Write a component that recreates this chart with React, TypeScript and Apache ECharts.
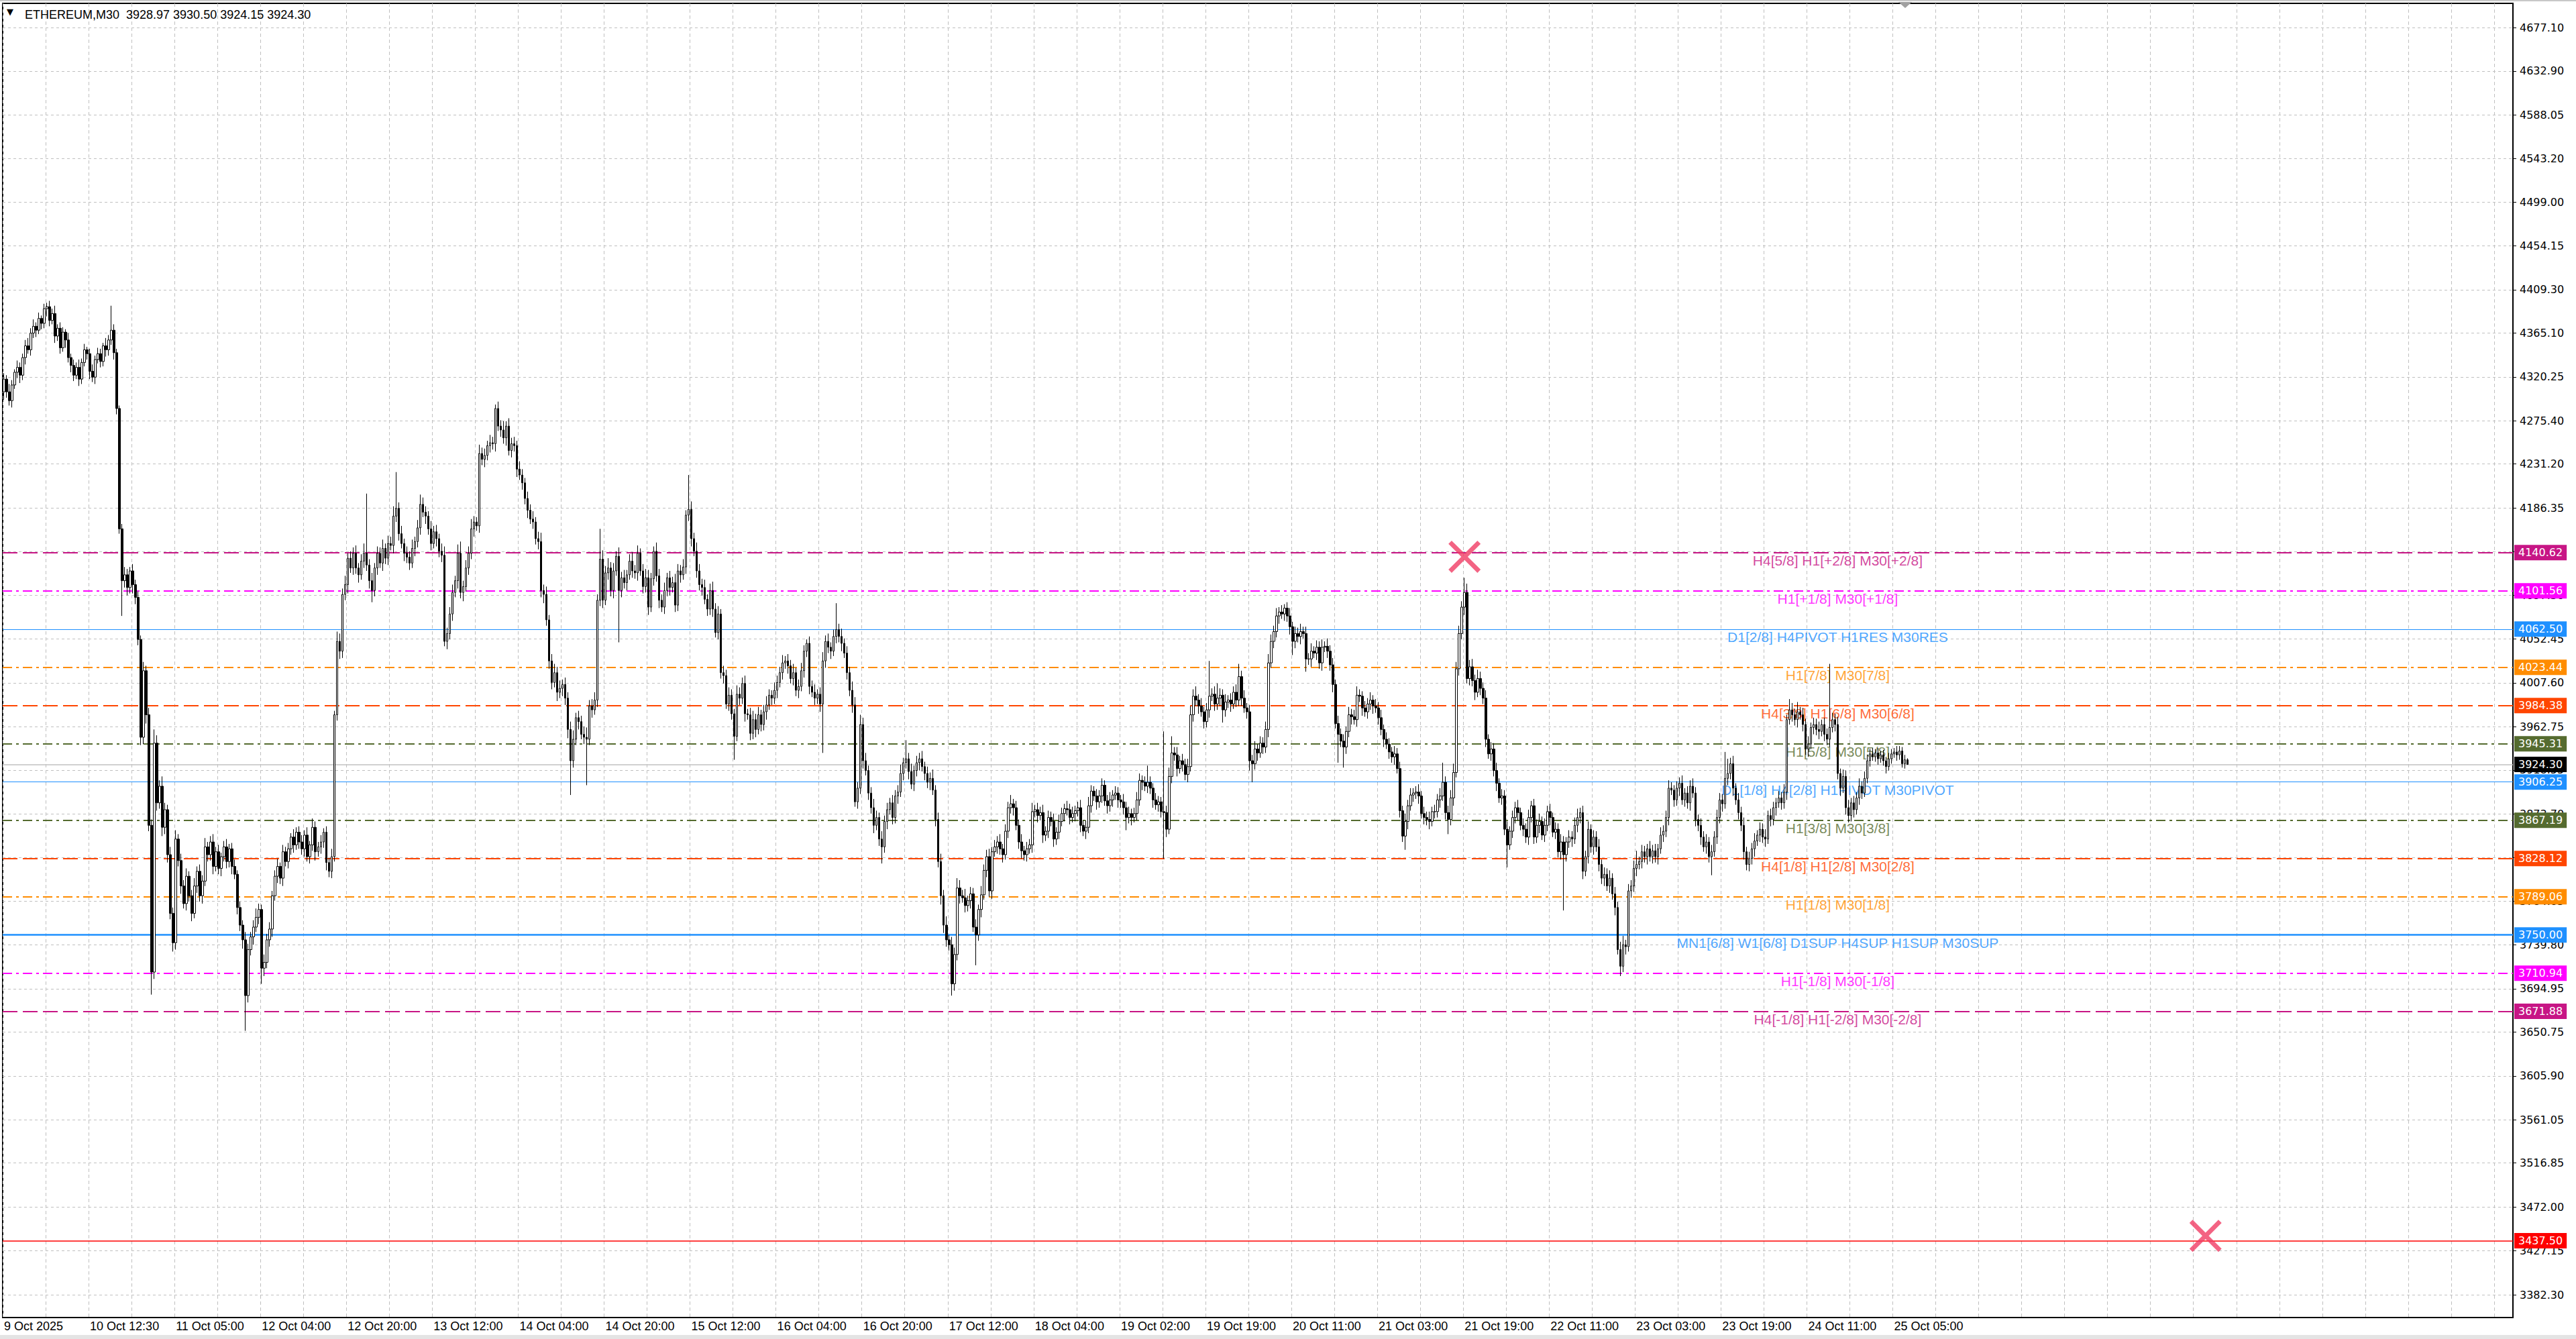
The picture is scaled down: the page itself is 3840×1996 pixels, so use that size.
import React, { useEffect, useRef } from 'react';
import * as echarts from 'echarts';

const SYMBOL = 'ETHEREUM';
const TIMEFRAME = 'M30';

// open of the first bar, then each bar opens at the previous close
const FIRST_OPEN = 4305;

// M30 closes, 10 bars per row
const CLOSE = [
  4318, 4305, 4296, 4312, 4325, 4330, 4322, 4340, 4352, 4348,
  4365, 4372, 4368, 4380, 4375, 4390, 4392, 4378, 4385, 4362,
  4370, 4350, 4366, 4358, 4340, 4332, 4322, 4330, 4318, 4335,
  4348, 4344, 4326, 4320, 4338, 4344, 4336, 4352, 4348, 4358,
  4368, 4345, 4288, 4165, 4112, 4118, 4105, 4122, 4108, 4095,
  4052, 3952, 4020, 3975, 3862, 3712, 3946, 3885, 3902, 3860,
  3878, 3832, 3772, 3742, 3848, 3826, 3800, 3782, 3810, 3790,
  3772, 3800, 3815, 3790, 3805, 3840, 3832, 3845, 3820, 3835,
  3818, 3830, 3840, 3825, 3838, 3820, 3812, 3778, 3760, 3745,
  3688, 3735, 3748, 3758, 3768, 3776, 3716, 3722, 3745, 3756,
  3790, 3810, 3820, 3808, 3835, 3825, 3838, 3850, 3842, 3855,
  3845, 3838, 3852, 3830, 3842, 3860, 3835, 3840, 3845, 3855,
  3824, 3815, 3830, 3975, 4050, 4040, 4098, 4108, 4135, 4125,
  4140, 4125, 4118, 4132, 4140, 4128, 4112, 4102, 4125, 4140,
  4130, 4145, 4135, 4150, 4148, 4178, 4186, 4160, 4150, 4140,
  4136, 4130, 4145, 4152, 4166, 4190, 4182, 4178, 4165, 4150,
  4162, 4155, 4142, 4138, 4050, 4058, 4078, 4100, 4112, 4140,
  4100, 4106, 4125, 4140, 4165, 4172, 4168, 4242, 4236, 4240,
  4250, 4253, 4252, 4288, 4270, 4266, 4258, 4270, 4245, 4252,
  4250, 4226, 4220, 4212, 4196, 4184, 4175, 4172, 4155, 4152,
  4102, 4098, 4072, 4030, 4008, 4018, 3998, 4002, 4006, 3992,
  3960, 3928, 3950, 3972, 3968, 3955, 3952, 3950, 3984, 3980,
  3990, 4092, 4134, 4092, 4120, 4125, 4102, 4122, 4137, 4102,
  4115, 4110, 4118, 4132, 4122, 4120, 4140, 4122, 4106, 4115,
  4085, 4114, 4142, 4117, 4092, 4085, 4102, 4115, 4105, 4110,
  4087, 4122, 4118, 4126, 4179, 4185, 4155, 4142, 4122, 4108,
  4105, 4093, 4083, 4102, 4083, 4059, 4078, 4018, 4015, 3986,
  3995, 3976, 3953, 3996, 3992, 4007, 3976, 3975, 3956, 3970,
  3960, 3975, 3965, 3978, 3985, 3995, 3992, 4000, 4008, 4018,
  4028, 4030, 4025, 4012, 4018, 4000, 4004, 4020, 4040, 4048,
  4004, 3998, 3992, 3996, 3986, 4030, 4050, 4044, 4040, 4055,
  4062, 4055, 4048, 4038, 4018, 4000, 3985, 3886, 3900, 3965,
  3928, 3918, 3895, 3880, 3862, 3870, 3848, 3840, 3866, 3878,
  3885, 3870, 3892, 3896, 3915, 3926, 3930, 3917, 3904, 3918,
  3926, 3930, 3922, 3915, 3906, 3910, 3898, 3868, 3825, 3790,
  3760, 3745, 3740, 3700, 3730, 3798, 3790, 3788, 3780, 3785,
  3792, 3758, 3750, 3776, 3791, 3816, 3830, 3795, 3835, 3840,
  3845, 3838, 3832, 3856, 3880, 3884, 3880, 3862, 3845, 3836,
  3832, 3838, 3842, 3876, 3878, 3872, 3875, 3852, 3856, 3870,
  3866, 3848, 3855, 3866, 3874, 3879, 3878, 3870, 3874, 3877,
  3880, 3862, 3856, 3860, 3882, 3897, 3892, 3886, 3892, 3903,
  3887, 3882, 3888, 3893, 3895, 3888, 3886, 3880, 3870, 3874,
  3870, 3874, 3888, 3908, 3906, 3902, 3906, 3900, 3888, 3883,
  3886, 3876, 3875, 3858, 3912, 3936, 3934, 3920, 3928, 3924,
  3914, 3922, 3975, 3994, 3990, 3984, 3978, 3968, 3980, 3994,
  3996, 3986, 3992, 3995, 3980, 3988, 3990, 3986, 3998, 3990,
  4014, 3992, 3982, 3978, 3928, 3925, 3940, 3936, 3946, 3942,
  3960, 4028, 4050, 4060, 4076, 4080, 4078, 4084, 4076, 4065,
  4050, 4058, 4055, 4060, 4058, 4032, 4032, 4040, 4038, 4044,
  4028, 4044, 4045, 4040, 4026, 4006, 3966, 3955, 3948, 3942,
  3958, 3975, 3973, 3970, 3995, 3994, 3982, 3978, 3986, 3990,
  3984, 3982, 3972, 3960, 3950, 3945, 3937, 3932, 3935, 3920,
  3877, 3851, 3866, 3882, 3893, 3895, 3896, 3892, 3874, 3870,
  3868, 3866, 3876, 3876, 3888, 3892, 3906, 3875, 3868, 3890,
  3916, 4022, 4058, 4085, 4100, 4012, 4024, 4010, 3998, 4012,
  4002, 3992, 3950, 3935, 3940, 3918, 3905, 3890, 3892, 3858,
  3842, 3856, 3870, 3880, 3875, 3862, 3858, 3850, 3870, 3882,
  3850, 3862, 3866, 3852, 3862, 3876, 3870, 3855, 3858, 3835,
  3845, 3832, 3845, 3850, 3848, 3862, 3870, 3875, 3815, 3830,
  3858, 3840, 3850, 3840, 3822, 3808, 3812, 3800, 3808, 3792,
  3778, 3735, 3718, 3740, 3738, 3795, 3800, 3818, 3822, 3825,
  3835, 3830, 3838, 3830, 3836, 3830, 3838, 3852, 3856, 3870,
  3900, 3898, 3888, 3900, 3905, 3888, 3895, 3885, 3902, 3895,
  3868, 3862, 3850, 3840, 3845, 3830, 3835, 3850, 3870, 3888,
  3884, 3910, 3915, 3925, 3900, 3888, 3875, 3862, 3835, 3822,
  3828, 3838, 3846, 3852, 3858, 3850, 3848, 3872, 3868, 3880,
  3885, 3890, 3885, 3896, 3970, 3980, 3975, 3970, 3978, 3975,
  3965, 3940, 3945, 3962, 3965, 3960, 3958, 3965, 3955, 3950,
  3962, 3970, 3965, 3915, 3900, 3912, 3880, 3872, 3885, 3878,
  3890, 3902, 3895, 3910, 3928, 3935, 3932, 3936, 3930, 3934,
  3928, 3922, 3930, 3935, 3937, 3934, 3938, 3925, 3928.97, 3924.3,
];

// upper shadow above the body, per bar
const WICK_UP = [
  6, 4, 8, 5, 3, 7, 5, 4, 6, 8,
  5, 7, 4, 6, 3, 5, 4, 6, 5, 8,
  4, 6, 5, 3, 7, 4, 6, 5, 8, 4,
  6, 3, 5, 7, 4, 6, 5, 3, 8, 5,
  25, 6, 4, 3, 5, 8, 6, 4, 7, 5,
  6, 4, 9, 5, 7, 6, 14, 8, 6, 10,
  7, 5, 8, 6, 9, 5, 7, 6, 8, 5,
  6, 8, 5, 7, 6, 9, 5, 6, 8, 5,
  7, 4, 6, 8, 5, 6, 7, 4, 6, 5,
  8, 6, 5, 7, 9, 6, 5, 8, 6, 7,
  5, 6, 8, 4, 7, 5, 6, 4, 8, 5,
  6, 7, 5, 8, 4, 9, 6, 5, 7, 4,
  6, 5, 8, 4, 10, 8, 6, 9, 5, 7,
  6, 8, 5, 7, 10, 61, 6, 8, 5, 7,
  6, 9, 5, 8, 7, 10, 37, 6, 8, 5,
  7, 6, 9, 5, 8, 10, 7, 6, 5, 8,
  6, 7, 5, 8, 9, 6, 7, 8, 5, 9,
  12, 6, 8, 7, 10, 6, 5, 9, 6, 7,
  5, 8, 6, 4, 7, 6, 9, 5, 8, 6,
  7, 5, 8, 6, 5, 7, 6, 8, 5, 7,
  9, 6, 8, 5, 7, 9, 6, 8, 5, 7,
  6, 8, 9, 5, 7, 6, 8, 10, 6, 7,
  8, 6, 31, 9, 7, 10, 6, 8, 5, 9,
  6, 8, 5, 7, 9, 6, 8, 5, 7, 9,
  8, 6, 5, 9, 7, 6, 8, 5, 7, 6,
  9, 7, 6, 8, 5, 35, 8, 6, 9, 7,
  6, 8, 5, 7, 9, 6, 8, 5, 7, 6,
  8, 6, 5, 9, 7, 6, 8, 5, 7, 9,
  6, 8, 5, 7, 9, 6, 5, 8, 7, 6,
  8, 5, 7, 6, 9, 5, 7, 8, 6, 4,
  7, 6, 8, 5, 7, 9, 6, 8, 5, 7,
  27, 6, 8, 5, 7, 6, 9, 8, 6, 10,
  7, 8, 5, 6, 9, 7, 5, 8, 6, 7,
  5, 8, 6, 7, 9, 5, 19, 6, 8, 5,
  7, 6, 8, 5, 7, 6, 9, 5, 7, 8,
  6, 9, 5, 8, 7, 10, 8, 6, 9, 5,
  7, 6, 8, 5, 9, 6, 7, 8, 5, 7,
  6, 8, 5, 7, 6, 9, 5, 7, 6, 8,
  5, 7, 6, 9, 5, 7, 6, 8, 5, 7,
  6, 8, 5, 7, 6, 5, 8, 6, 7, 5,
  6, 8, 5, 7, 9, 6, 5, 7, 6, 7,
  5, 6, 8, 5, 7, 6, 5, 8, 6, 7,
  5, 6, 8, 7, 5, 6, 17, 6, 5, 7,
  6, 5, 82, 7, 9, 17, 6, 8, 5, 7,
  6, 8, 9, 7, 10, 6, 8, 5, 7, 36,
  6, 8, 15, 7, 6, 8, 5, 7, 6, 8,
  13, 6, 8, 5, 7, 6, 8, 5, 7, 6,
  8, 9, 7, 6, 8, 5, 7, 4, 6, 8,
  5, 7, 6, 8, 5, 7, 6, 8, 5, 7,
  6, 8, 5, 8, 6, 7, 5, 8, 6, 7,
  5, 8, 6, 7, 9, 6, 5, 7, 6, 8,
  5, 7, 6, 8, 5, 7, 6, 5, 8, 6,
  7, 5, 8, 6, 7, 5, 6, 8, 5, 7,
  6, 8, 5, 7, 6, 8, 20, 6, 7, 8,
  9, 7, 8, 6, 15, 9, 7, 8, 6, 9,
  7, 6, 8, 5, 7, 6, 8, 5, 7, 6,
  8, 5, 7, 6, 8, 5, 7, 6, 8, 5,
  7, 6, 8, 5, 7, 6, 8, 5, 7, 6,
  8, 6, 5, 7, 6, 8, 9, 5, 7, 6,
  8, 5, 7, 6, 8, 5, 7, 6, 8, 5,
  7, 6, 8, 9, 5, 7, 6, 8, 14, 5,
  7, 6, 5, 8, 6, 7, 5, 8, 6, 7,
  8, 6, 5, 7, 6, 8, 5, 7, 6, 8,
  6, 5, 7, 6, 8, 5, 7, 6, 8, 7,
  6, 27, 15, 6, 8, 5, 7, 6, 8, 5,
  7, 6, 8, 5, 7, 6, 8, 5, 7, 6,
  5, 7, 6, 8, 5, 11, 7, 6, 10, 5,
  7, 6, 8, 5, 7, 6, 8, 5, 7, 6,
  65, 7, 6, 8, 5, 7, 6, 8, 5, 7,
  6, 8, 5, 7, 6, 5, 6, 4, 5, 4,
  5, 4, 6, 5, 4, 6, 5, 4, 5, 1.53,
];

// lower shadow below the body, per bar
const WICK_DN = [
  8, 6, 5, 7, 4, 6, 8, 5, 7, 4,
  6, 5, 7, 4, 6, 5, 8, 6, 4, 7,
  5, 6, 4, 8, 5, 7, 6, 4, 7, 5,
  4, 6, 8, 5, 7, 4, 6, 5, 7, 6,
  5, 7, 6, 5, 36, 7, 8, 6, 9, 7,
  6, 8, 7, 9, 6, 23, 7, 8, 6, 9,
  7, 8, 6, 9, 7, 6, 8, 5, 7, 6,
  8, 5, 7, 6, 8, 5, 7, 6, 8, 5,
  6, 8, 5, 7, 6, 8, 5, 7, 6, 9,
  36, 7, 6, 8, 5, 7, 16, 8, 6, 7,
  8, 5, 7, 6, 8, 5, 7, 6, 8, 5,
  7, 6, 8, 5, 7, 6, 9, 5, 7, 6,
  8, 6, 7, 5, 6, 8, 7, 6, 9, 5,
  7, 6, 8, 5, 7, 6, 8, 12, 6, 7,
  5, 8, 6, 7, 5, 8, 6, 7, 5, 8,
  6, 7, 5, 8, 6, 7, 5, 8, 6, 7,
  5, 8, 6, 7, 5, 8, 6, 7, 5, 8,
  6, 9, 5, 7, 6, 8, 5, 7, 6, 8,
  5, 7, 6, 8, 5, 7, 6, 8, 5, 7,
  6, 8, 5, 7, 6, 8, 5, 7, 6, 8,
  7, 9, 6, 8, 7, 5, 9, 6, 8, 7,
  9, 35, 7, 6, 8, 5, 7, 47, 6, 8,
  5, 7, 6, 8, 5, 7, 6, 8, 5, 53,
  7, 6, 8, 5, 7, 6, 8, 5, 7, 6,
  8, 5, 7, 6, 8, 5, 7, 6, 8, 5,
  7, 6, 8, 5, 7, 6, 8, 5, 7, 6,
  8, 5, 7, 6, 8, 5, 7, 6, 8, 5,
  7, 6, 24, 5, 7, 6, 8, 5, 7, 6,
  8, 5, 7, 6, 8, 5, 7, 6, 8, 5,
  7, 6, 8, 5, 7, 6, 8, 5, 7, 6,
  8, 5, 7, 6, 8, 50, 7, 6, 8, 5,
  7, 6, 8, 5, 7, 6, 8, 5, 7, 6,
  8, 5, 7, 6, 8, 5, 7, 17, 6, 8,
  5, 7, 6, 8, 5, 7, 6, 8, 5, 7,
  6, 8, 5, 7, 6, 8, 5, 7, 6, 9,
  8, 7, 6, 12, 7, 6, 8, 5, 7, 6,
  8, 5, 31, 6, 8, 5, 7, 6, 8, 5,
  7, 6, 8, 5, 7, 6, 8, 5, 7, 8,
  6, 7, 5, 8, 6, 7, 5, 8, 6, 7,
  5, 8, 6, 7, 5, 8, 6, 7, 5, 8,
  6, 7, 5, 8, 6, 7, 5, 8, 6, 7,
  5, 8, 6, 7, 5, 8, 6, 7, 13, 6,
  8, 5, 7, 6, 8, 5, 7, 6, 8, 5,
  7, 6, 47, 8, 5, 7, 6, 8, 5, 7,
  6, 8, 5, 7, 6, 8, 5, 7, 6, 8,
  5, 7, 6, 8, 13, 7, 6, 8, 5, 7,
  6, 8, 5, 7, 10, 19, 6, 8, 5, 7,
  6, 8, 5, 7, 6, 8, 5, 7, 6, 8,
  14, 7, 6, 8, 5, 13, 6, 8, 5, 7,
  6, 8, 5, 7, 6, 8, 5, 29, 6, 21,
  7, 6, 8, 5, 7, 6, 8, 5, 7, 6,
  8, 5, 7, 6, 8, 5, 7, 6, 8, 5,
  7, 6, 14, 8, 5, 7, 6, 8, 5, 7,
  6, 8, 5, 7, 6, 8, 5, 7, 15, 6,
  8, 5, 7, 6, 8, 5, 7, 6, 8, 5,
  7, 6, 8, 5, 7, 6, 8, 5, 7, 6,
  23, 5, 7, 6, 8, 5, 7, 6, 8, 5,
  7, 6, 8, 5, 7, 6, 8, 5, 7, 6,
  8, 57, 7, 6, 8, 5, 7, 6, 8, 5,
  7, 6, 8, 5, 7, 6, 8, 5, 7, 6,
  8, 5, 10, 6, 8, 5, 7, 6, 8, 5,
  7, 6, 8, 5, 7, 6, 8, 5, 7, 6,
  8, 5, 7, 6, 8, 5, 7, 6, 8, 5,
  7, 6, 8, 5, 7, 6, 19, 5, 7, 6,
  8, 5, 7, 6, 8, 5, 7, 6, 8, 6,
  7, 6, 8, 5, 7, 6, 8, 5, 7, 6,
  8, 5, 7, 6, 8, 5, 7, 6, 8, 5,
  7, 6, 8, 5, 7, 6, 8, 5, 7, 6,
  8, 5, 7, 6, 8, 5, 7, 7, 6, 8,
  5, 7, 6, 4, 5, 6, 4, 5, 6, 4,
  5, 7, 4, 5, 4, 6, 5, 4, 5, 0.15,
];

// one time label every 32 bars
const TIME_LABELS = [
  '9 Oct 2025', '10 Oct 12:30', '11 Oct 05:00', '12 Oct 04:00', '12 Oct 20:00', '13 Oct 12:00',
  '14 Oct 04:00', '14 Oct 20:00', '15 Oct 12:00', '16 Oct 04:00', '16 Oct 20:00', '17 Oct 12:00',
  '18 Oct 04:00', '19 Oct 02:00', '19 Oct 19:00', '20 Oct 11:00', '21 Oct 03:00', '21 Oct 19:00',
  '22 Oct 11:00', '23 Oct 03:00', '23 Oct 19:00', '24 Oct 11:00', '25 Oct 05:00',
];

const PRICE_TICKS = [
  4677.1, 4632.9, 4588.05, 4543.2, 4499.0, 4454.15, 4409.3, 4365.1, 4320.25, 4275.4,
  4231.2, 4186.35, 4141.5, 4097.3, 4052.45, 4007.6, 3962.75, 3918.55, 3873.7, 3828.85,
  3784.65, 3739.8, 3694.95, 3650.75, 3605.9, 3561.05, 3516.85, 3472.0, 3427.15, 3382.3,
];

const LEVEL_PRICES = [4140.62, 4101.56, 4062.5, 4023.44, 3984.38, 3945.31, 3906.25, 3867.19, 3828.12, 3789.06, 3750.0, 3710.94, 3671.88];
const LEVEL_NAMES = [
  'H4[5/8] H1[+2/8] M30[+2/8]',
  'H1[+1/8] M30[+1/8]',
  'D1[2/8] H4PIVOT H1RES M30RES',
  'H1[7/8] M30[7/8]',
  'H4[3/8] H1[6/8] M30[6/8]',
  'H1[5/8] M30[5/8]',
  'D1[1/8] H4[2/8] H1PIVOT M30PIVOT',
  'H1[3/8] M30[3/8]',
  'H4[1/8] H1[2/8] M30[2/8]',
  'H1[1/8] M30[1/8]',
  'MN1[6/8] W1[6/8] D1SUP H4SUP H1SUP M30SUP',
  'H1[-1/8] M30[-1/8]',
  'H4[-1/8] H1[-2/8] M30[-2/8]',
];
const LEVEL_COLORS = ['#c71585', '#ff00ff', '#1e90ff', '#ff8c00', '#ff4500', '#556b2f', '#1e90ff', '#556b2f', '#ff4500', '#ff8c00', '#1e90ff', '#ff00ff', '#c71585'];
const LEVEL_KINDS = ['dash', 'dashdot', 'solid', 'dashdot', 'dash', 'dashdot', 'solid', 'dashdot', 'dash', 'dashdot', 'thick', 'dashdot', 'dash'];

const STOP_PRICE = 3437.5;
// [bar index, price] of the two cross marks
const CROSS_MARKS = [[544, 4136.5], [820, 3442.5]];

const SLOT_COUNT = 935;
const LABEL_BAR = 683;
const CROSS_PATH = 'path://M10,0 L50,40 L90,0 L100,10 L60,50 L100,90 L90,100 L50,60 L10,100 L0,90 L40,50 L0,10 Z';

const LINE_STYLES: Record<string, { type: any; width: number }> = {
  dash: { type: [22, 8], width: 2 },
  dashdot: { type: [14, 6, 4, 6], width: 2 },
  solid: { type: 'solid', width: 1 },
  thick: { type: 'solid', width: 2.5 },
};

export default function App() {
  const ref = useRef<HTMLDivElement>(null);

  useEffect(() => {
    if (!ref.current) return;
    const chart = echarts.init(ref.current, null, { renderer: 'svg' });

    const candles = CLOSE.map((c, i) => {
      const o = i === 0 ? FIRST_OPEN : CLOSE[i - 1];
      return [o, c, Math.min(o, c) - WICK_DN[i], Math.max(o, c) + WICK_UP[i]];
    });
    const last = candles[candles.length - 1];
    const ohlc = [last[0], last[3], last[2], last[1]].map((v) => v.toFixed(2)).join(' ');
    const lastClose = last[1];

    const categories = Array.from({ length: SLOT_COUNT }, (_, i) =>
      i % 32 === 0 && TIME_LABELS[i / 32] ? TIME_LABELS[i / 32] : ''
    );

    const badge = (bg: string) => ({
      show: true,
      position: 'end',
      distance: 2,
      formatter: (p: any) => Number(p.value).toFixed(2),
      color: '#ffffff',
      backgroundColor: bg,
      padding: [4, 6, 3, 6],
      fontFamily: 'DejaVu Sans',
      fontSize: 16,
    });

    const levelLines = LEVEL_PRICES.map((p, i) => ({
      yAxis: p,
      lineStyle: { color: LEVEL_COLORS[i], ...LINE_STYLES[LEVEL_KINDS[i]] },
      label: badge(LEVEL_COLORS[i]),
    }));

    chart.setOption({
      animation: false,
      backgroundColor: '#ffffff',
      textStyle: { fontFamily: 'Liberation Sans' },
      title: {
        text: `${SYMBOL},${TIMEFRAME}  ${ohlc}`,
        left: 32,
        top: 8,
        textStyle: { fontFamily: 'Liberation Sans', fontSize: 18, fontWeight: 'normal', color: '#000000' },
      },
      grid: {
        left: 4,
        right: 94,
        top: 5,
        bottom: 32,
        show: true,
        backgroundColor: '#ffffff',
        borderColor: '#000000',
        borderWidth: 2,
      },
      xAxis: {
        type: 'category',
        data: categories,
        boundaryGap: true,
        axisLine: { lineStyle: { color: '#000000', width: 2 } },
        axisTick: { interval: 31, alignWithLabel: true, length: 6, lineStyle: { color: '#000000' } },
        axisLabel: {
          interval: 31,
          align: 'left',
          margin: 4,
          color: '#000000',
          fontFamily: 'Liberation Sans',
          fontSize: 18,
        },
        splitLine: { show: true, interval: 15, lineStyle: { color: '#c0c0c0', type: [5, 4], width: 1 } },
      },
      yAxis: {
        type: 'value',
        position: 'right',
        min: 3359,
        max: 4702,
        axisLine: { show: true, lineStyle: { color: '#000000', width: 2 } },
        axisTick: { show: true, length: 5, customValues: PRICE_TICKS, lineStyle: { color: '#000000' } },
        axisLabel: {
          customValues: PRICE_TICKS,
          formatter: (v: number) => v.toFixed(2),
          margin: 10,
          color: '#000000',
          fontFamily: 'DejaVu Sans',
          fontSize: 16,
        },
        splitLine: { show: true, lineStyle: { color: '#c0c0c0', type: [4, 4], width: 1 } },
      },
      series: [
        {
          name: 'levels',
          type: 'scatter',
          z: 1,
          clip: false,
          silent: true,
          symbolSize: 0.1,
          itemStyle: { color: 'rgba(0,0,0,0)' },
          data: LEVEL_PRICES.map((p, i) => ({
            value: [LABEL_BAR, p],
            name: LEVEL_NAMES[i],
            label: { color: LEVEL_COLORS[i] },
          })),
          label: {
            show: true,
            position: 'bottom',
            distance: 1,
            formatter: '{b}',
            fontFamily: 'Liberation Sans',
            fontSize: 21,
          },
          markLine: {
            z: 1,
            silent: true,
            symbol: ['none', 'none'],
            data: [
              ...levelLines,
              {
                yAxis: lastClose,
                lineStyle: { color: '#c0c0c0', type: 'solid', width: 1.5 },
                label: badge('#000000'),
              },
              {
                yAxis: STOP_PRICE,
                lineStyle: { color: '#ff0000', type: 'solid', width: 1.5 },
                label: badge('#ff0000'),
              },
            ],
          },
        },
        {
          name: SYMBOL,
          type: 'candlestick',
          z: 2,
          large: false,
          barWidth: 3,
          data: candles,
          itemStyle: {
            color: '#ffffff',
            color0: '#000000',
            borderColor: '#000000',
            borderColor0: '#000000',
            borderWidth: 1,
          },
        },
        {
          name: 'marks',
          type: 'scatter',
          z: 5,
          clip: false,
          symbol: CROSS_PATH,
          symbolSize: 48,
          itemStyle: { color: '#f03c64' },
          data: CROSS_MARKS,
        },
      ],
      graphic: [
        { type: 'rect', shape: { x: 0, y: 0, width: 3840, height: 2 }, style: { fill: '#c8c8c8' } },
        { type: 'rect', shape: { x: 0, y: 1990, width: 3840, height: 6 }, style: { fill: '#e4e4e4' } },
        { type: 'polygon', shape: { points: [[2830, 3], [2850, 3], [2840, 12]] }, style: { fill: '#a0a0a0' } },
        {
          type: 'text',
          left: 10,
          top: 11,
          style: { text: '▼', fill: '#000000', font: '13px "DejaVu Sans"' },
        },
      ],
    });

    return () => chart.dispose();
  }, []);

  return <div ref={ref} style={{ position: 'fixed', left: 0, top: 0, width: '100vw', height: '100vh' }} />;
}
